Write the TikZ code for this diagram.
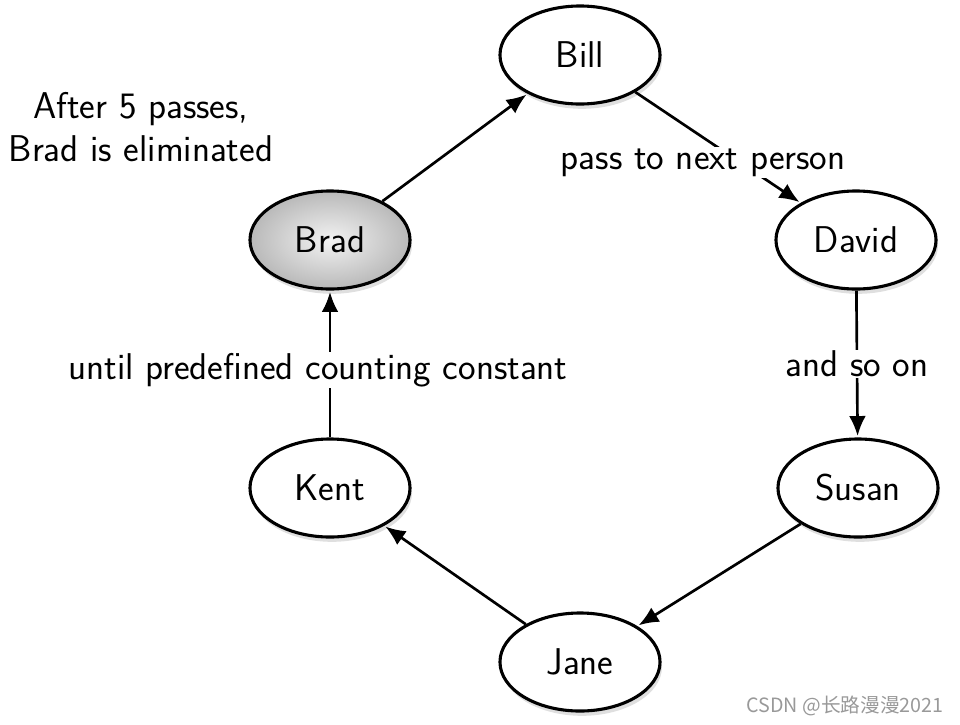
\documentclass[tikz,border=0pt]{standalone}
\usepackage{fontspec}
\newfontfamily\cjk{Noto Sans CJK SC}
\usetikzlibrary{arrows.meta,shadows,shapes.geometric}

\begin{document}
\begin{tikzpicture}[x=0.025cm, y=-0.025cm,
        font=\sffamily\fontsize{26.5}{31}\selectfont,
        person/.style={ellipse,draw,line width=2.2pt,fill=white,minimum width=4cm,minimum height=2.45cm,
            drop shadow={opacity=0.25,shadow xshift=0.5mm,shadow yshift=-1.2mm}},
        note/.style={fill=white,inner sep=1pt,align=center},
        pass/.style={line width=1.9pt,-{Latex[length=5mm,width=4.2mm]},shorten >=1pt}]
        \useasboundingbox (0,0) rectangle (960,724);

        \node[person] (bill) at (580,55) {Bill};
        \node[person,shading=radial,inner color=gray!10,outer color=gray!55] (brad) at (330,240) {Brad};
        \node[person] (david) at (856,240) {David};
        \node[person] (susan) at (858,488) {Susan};
        \node[person] (kent) at (330,488) {Kent};
        \node[person] (jane) at (580,662) {Jane};

        \node[note] (elim) at (141,127) {After 5 passes,\\Brad is eliminated};

        \draw[pass] (bill) -- node[note,pos=0.41,yshift=-6.2mm] {pass to next person} (david);
        \draw[pass] (brad) -- (bill);
        \draw[pass] (david) -- node[note] {and so on} (susan);
        \draw[pass] (susan) -- (jane);
        \draw[pass] (jane) -- (kent);
        \draw[pass] (kent) -- node[note,xshift=-3mm,yshift=-1.5mm] {until predefined counting constant} (brad);

        \node[text=gray!80,font=\cjk\fontsize{14}{16}\selectfont] (mark) at (845,706) {CSDN @长路漫漫2021};
    \end{tikzpicture}
\end{document}
